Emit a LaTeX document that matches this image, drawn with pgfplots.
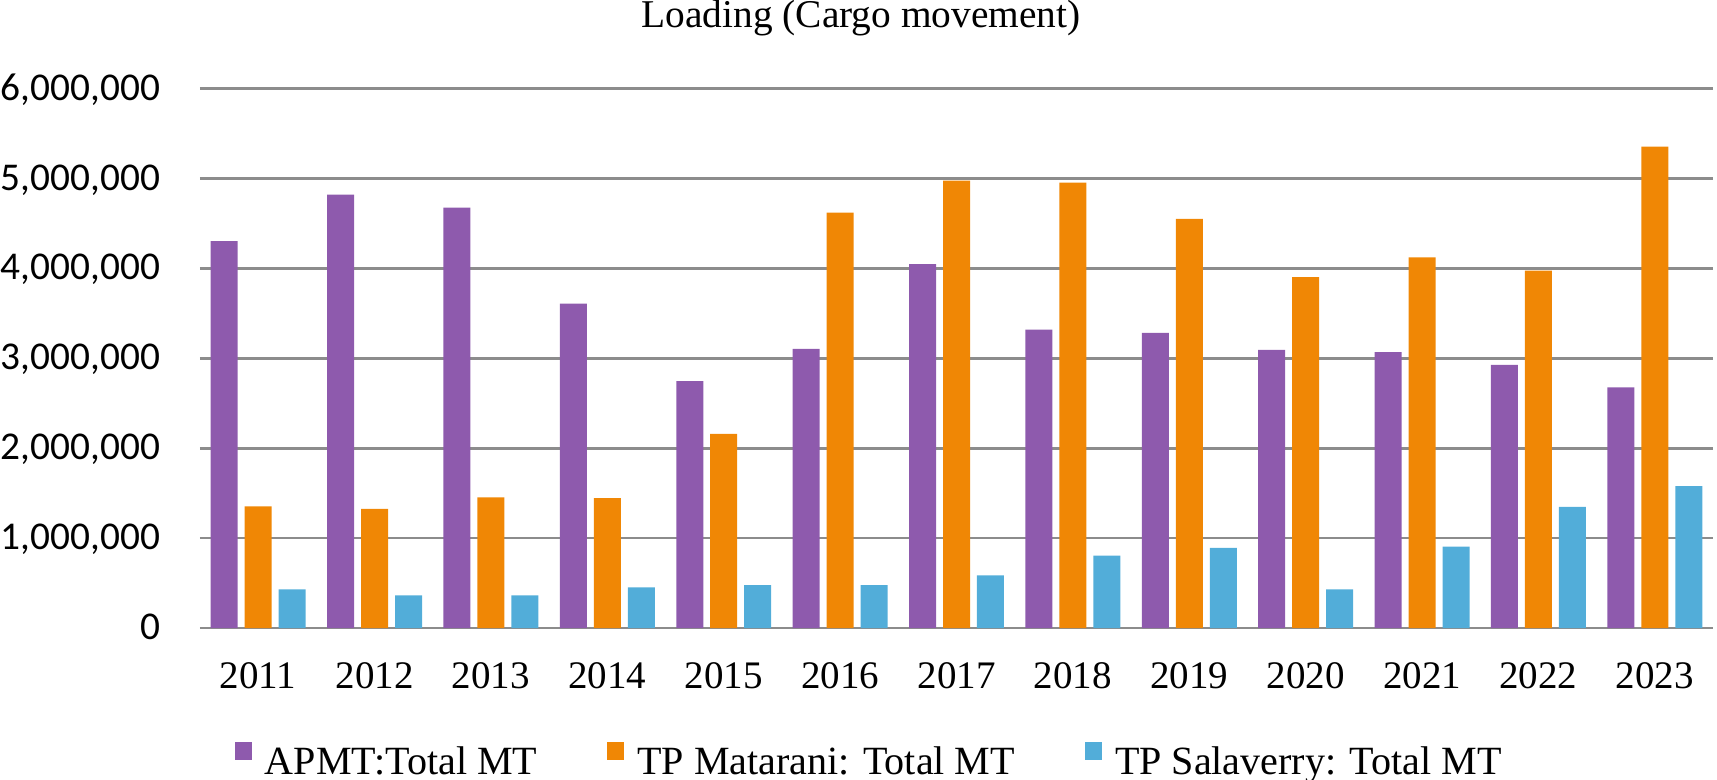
\documentclass[border=0pt]{standalone}
\usepackage{fontspec}
\setmainfont{Liberation Serif}
\newfontfamily\carlito{Carlito}
\usepackage{pgfplots}
\pgfplotsset{compat=1.18}
\definecolor{cPurple}{RGB}{142,90,173}
\definecolor{cOrange}{RGB}{240,135,5}
\definecolor{cBlue}{RGB}{82,173,217}
\definecolor{cGrid}{RGB}{140,140,140}
\pgfplotsset{sqlegend/.style={legend image code/.code={\path[##1,draw=none] (0mm,0.3mm) rectangle (1.7mm,2.15mm);}}}
\begin{document}
\begin{tikzpicture}
\path[use as bounding box] (0,0) rectangle (171.7mm,77.9mm);
\node[anchor=base, inner sep=0pt, font=\fontsize{11.2}{13}\selectfont] at (86.1mm,75.1mm) {Loading (Cargo movement)};
\begin{axis}[
  at={(20.0mm,15.1mm)}, anchor=south west,
  width=151.3mm, height=53.94mm, scale only axis,
  xmin=-0.5, xmax=12.5, ymin=0, ymax=6000000,
  ybar,
  axis line style={draw=none},
  major tick length=0pt,
  tick style={draw=none},
  ymajorgrids,
  grid style={cGrid, line width=0.27mm},
  scaled y ticks=false,
  ytick={0,1000000,2000000,3000000,4000000,5000000,6000000},
  yticklabels={0,{1,000,000},{2,000,000},{3,000,000},{4,000,000},{5,000,000},{6,000,000}},
  xtick={0,1,2,3,4,5,6,7,8,9,10,11,12},
  xticklabels={2011,2012,2013,2014,2015,2016,2017,2018,2019,2020,2021,2022,2023},
  yticklabel style={font=\carlito\fontsize{11.2}{13}\selectfont, anchor=base east, inner sep=0pt, xshift=-3.9mm, yshift=-1.15mm},
  xticklabel style={font=\fontsize{11.1}{13}\selectfont, anchor=base, inner sep=0pt, yshift=-6.0mm},
  legend columns=3,
  legend style={at={(0.0231,-0.2466)}, anchor=west, draw=none, fill=none, inner sep=0pt, outer sep=0pt,
    font=\fontsize{11.4}{13}\selectfont, nodes={inner sep=0pt},
    /tikz/every odd column/.append style={column sep=1.3mm},
    /tikz/every even column/.append style={column sep=7.0mm}},
]
\addplot[fill=cPurple, draw=none, bar width=0.232, bar shift=-0.292, sqlegend] coordinates {
(0,4304000) (1,4822000) (2,4676000) (3,3609000) (4,2746000) (5,3106000) (6,4049000)
(7,3320000) (8,3283000) (9,3095000) (10,3069000) (11,2926000) (12,2678000)};
\addplot[fill=cOrange, draw=none, bar width=0.232, bar shift=0, sqlegend] coordinates {
(0,1352000) (1,1326000) (2,1453000) (3,1446000) (4,2160000) (5,4620000) (6,4977000)
(7,4954000) (8,4552000) (9,3902000) (10,4124000) (11,3974000) (12,5356000)};
\addplot[fill=cBlue, draw=none, bar width=0.232, bar shift=0.292, sqlegend] coordinates {
(0,430000) (1,363000) (2,363000) (3,451000) (4,477000) (5,477000) (6,586000)
(7,805000) (8,890000) (9,430000) (10,905000) (11,1348000) (12,1577000)};
\legend{APMT:Total MT, TP Matarani: Total MT, TP Salaverry: Total MT}
\end{axis}
\end{tikzpicture}
\end{document}
